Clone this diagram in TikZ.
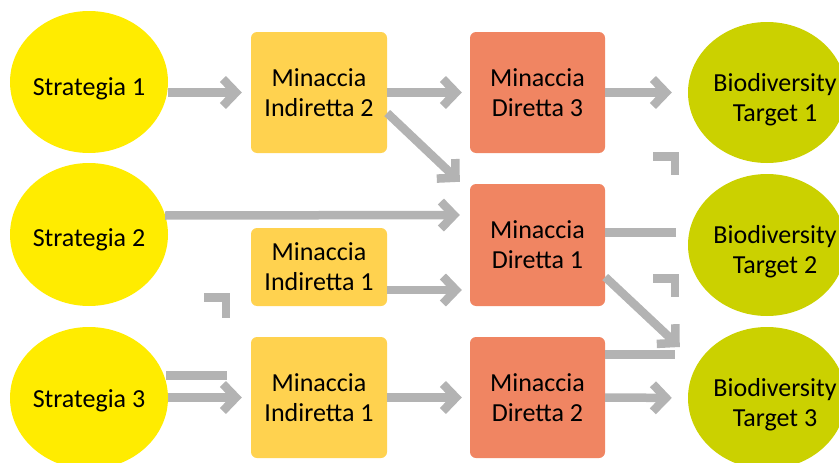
\documentclass[tikz,border=0pt]{standalone}
\usepackage{fontspec}
\setmainfont{Carlito}
\usetikzlibrary{shapes.geometric,arrows.meta,calc}
\definecolor{stratyellow}{HTML}{FFEC00}
\definecolor{indirorange}{HTML}{FFD24F}
\definecolor{dirsalmon}{HTML}{F08562}
\definecolor{bioolive}{HTML}{CBD100}
\definecolor{arrgray}{HTML}{B3B3B3}
\begin{document}
\begin{tikzpicture}[x=1pt,y=-1pt,
  font=\fontsize{26pt}{30pt}\selectfont,
  strat/.style={ellipse, fill=stratyellow, minimum width=158pt, minimum height=142pt, inner sep=0pt},
  bio/.style={ellipse, fill=bioolive, minimum width=158pt, minimum height=142pt, inner sep=0pt},
  indir/.style={rectangle, rounded corners=6pt, fill=indirorange, minimum width=136pt, minimum height=121pt, align=center, inner sep=0pt},
  direct/.style={rectangle, rounded corners=6pt, fill=dirsalmon, minimum width=135pt, minimum height=121pt, align=center, inner sep=0pt},
  lbl/.style={align=center, inner sep=0pt},
  arr/.style={draw=arrgray, line width=8.5pt, -{Straight Barb[sharp, length=13pt, width=27pt]}},
  ln/.style={draw=arrgray, line width=8.5pt},
  frag/.style={draw=arrgray, line width=8.5pt, line join=miter, line cap=butt}]
\useasboundingbox (0,0) rectangle (839,463);
% strategies
\node[strat, label={[lbl, yshift=-7pt]center:Strategia 1}] (s1) at (89,82) {};
\node[strat, minimum height=143pt, label={[lbl, yshift=-5pt]center:Strategia 2}] (s2) at (89,234.5) {};
\node[strat, label={[lbl, yshift=-3pt]center:Strategia 3}] (s3) at (89,398) {};
% indirect threats
\node[indir] (mi2) at (319,92.5) {Minaccia\\Indiretta 2};
\node[indir, minimum height=78pt] (mi1a) at (319,267) {Minaccia\\Indiretta 1};
\node[indir] (mi1b) at (319,397.5) {Minaccia\\Indiretta 1};
% direct threats
\node[direct] (d3) at (537.5,92.5) {Minaccia\\Diretta 3};
\node[direct, minimum height=122pt] (d1) at (537.5,245) {Minaccia\\Diretta 1};
\node[direct] (d2) at (537.5,397.5) {Minaccia\\Diretta 2};
% targets
\node[bio, minimum height=141pt, label={[lbl, xshift=8pt, yshift=-7pt]center:Biodiversity\\Target 1}] (t1) at (767,92.5) {};
\node[bio, label={[lbl, xshift=8pt, yshift=-7pt]center:Biodiversity\\Target 2}] (t2) at (767,245) {};
\node[bio, label={[lbl, xshift=8pt, yshift=-7pt]center:Biodiversity\\Target 3}] (t3) at (767,398) {};
% free ends
\coordinate (c1) at (676,232.5);
\coordinate (c2) at (675,354.5);
\coordinate (c3) at (227,375.5);
% connectors
\draw[arr, shorten >=9pt] (s1.east |- mi2.west) -- (mi2.west);
\draw[arr, shorten >=8pt] (mi2.east) -- (d3.west);
\draw[arr, shorten >=16pt] (d3.east) -- (t1.west);
\draw[arr] ($(mi2.east)+(0,20.5)$) -- ($(d1.north west)+(-10,-2)$);
\draw[arr, shorten >=10pt] ($(s2.east)+(-3,-19)$) -- ($(d1.west)+(0,-30)$);
\draw[arr, shorten >=8pt] ($(mi1a.east)+(0,23)$) -- ($(d1.west)+(0,45)$);
\draw[ln] ($(d1.east)+(0,-12.5)$) -- (c1);
\draw[arr] ($(d1.east)+(0,32)$) -- ($(t3.west)+(-8,-51)$);
\draw[ln] ($(d2.east)+(0,-43)$) -- (c2);
\draw[arr, shorten >=16pt] (d2.east) -- (t3.west);
\draw[arr, shorten >=8pt] (mi1b.east) -- (d2.west);
\draw[arr, shorten >=9pt] (s3.east |- mi1b.west) -- (mi1b.west);
\draw[ln] ($(s3.east)+(-2,-22.5)$) -- (c3);
% detached arrow fragments
\draw[frag] (204,297.25) -- (225.75,297.25) -- (225.75,318);
\draw[frag] (653,156.25) -- (674.75,156.25) -- (674.75,175);
\draw[frag] (653,278.25) -- (674.75,278.25) -- (674.75,297);
\end{tikzpicture}
\end{document}
